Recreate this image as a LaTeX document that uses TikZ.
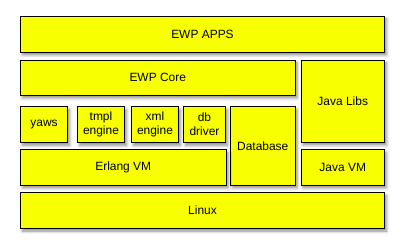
\documentclass[tikz,border=0pt]{standalone}
\usepackage{fontspec}
\setmainfont{Liberation Sans}
\usetikzlibrary{shadows.blur}
\definecolor{boxyellow}{RGB}{248,255,0}
\tikzset{
  layer/.style={draw,rectangle,fill=boxyellow,line width=0.9bp,inner sep=0pt,
    align=center,font=\fontsize{12}{14}\selectfont,
    blur shadow={shadow xshift=2bp,shadow yshift=-3bp,shadow blur radius=3bp,shadow opacity=45}},
}
\begin{document}
\begin{tikzpicture}[x=1bp,y=1bp]
        \useasboundingbox (0,0) rectangle (404,252);
        %%
        \node (apps) at (202.5,218) [layer,minimum width=364bp,minimum height=36bp] {EWP APPS};
        \node (core) at (157.75,174.5) [layer,minimum width=274.5bp,minimum height=35bp] {EWP Core};
        \node (javalibs) at (342.75,151) [layer,minimum width=83.5bp,minimum height=82bp] {Java Libs};
        \node (yaws) at (44,127.6) [layer,minimum width=47bp,minimum height=35.8bp] {yaws};
        \node (tmpl) at (101,127.6) [layer,minimum width=47bp,minimum height=35.8bp] {tmpl\\engine};
        \node (xml) at (155,127.6) [layer,minimum width=47bp,minimum height=35.8bp] {xml\\engine};
        \node (dbdriver) at (204.5,127.6) [layer,minimum width=42bp,minimum height=35.8bp] {db\\driver};
        \node (database) at (262.75,106.25) [layer,minimum width=64.5bp,minimum height=78.5bp] {Database};
        \node (erlangvm) at (123.25,84.85) [layer,minimum width=205.5bp,minimum height=35.7bp] {Erlang VM};
        \node (javavm) at (342.75,84.85) [layer,minimum width=83.5bp,minimum height=35.7bp] {Java VM};
        \node (linux) at (202.5,41.65) [layer,minimum width=364bp,minimum height=35.3bp] {Linux};
        %
    \end{tikzpicture}
\end{document}
